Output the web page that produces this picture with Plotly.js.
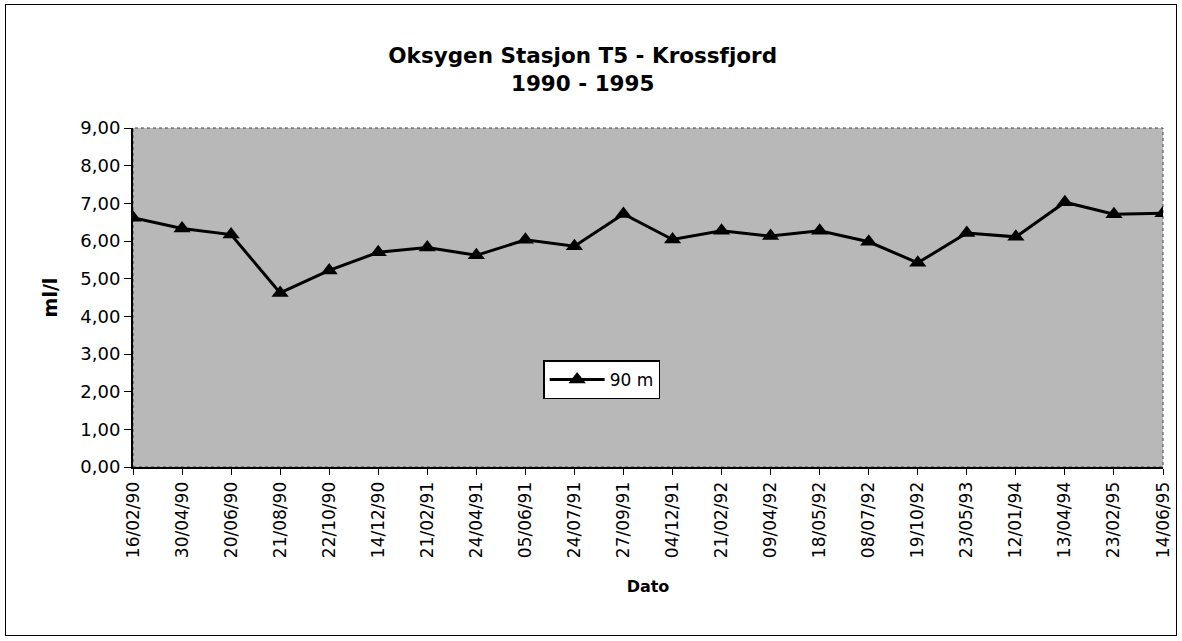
<!DOCTYPE html>
<html>
<head>
<meta charset="utf-8">
<script src="https://cdn.plot.ly/plotly-3.0.1.min.js"></script>
<style>
  html, body { margin: 0; padding: 0; background: #fff; }
  #wrap { position: relative; width: 1182px; height: 641px; }
  #chart { position: absolute; left: 0; top: 0; width: 1182px; height: 641px; }
  #frame { position: absolute; left: 5px; top: 4px; width: 1172px; height: 632px; border: 1px solid #000; pointer-events: none; box-sizing: border-box; }
</style>
</head>
<body>
<div id="wrap">
  <div id="chart"></div>
  <div id="frame"></div>
</div>
<script>
const dates = ["16/02/90","30/04/90","20/06/90","21/08/90","22/10/90","14/12/90","21/02/91","24/04/91",
               "05/06/91","24/07/91","27/09/91","04/12/91","21/02/92","09/04/92","18/05/92","08/07/92",
               "19/10/92","23/05/93","12/01/94","13/04/94","23/02/95","14/06/95"];
const oxygen90m = [6.62, 6.33, 6.17, 4.62, 5.22, 5.70, 5.83, 5.62,
                   6.03, 5.86, 6.72, 6.04, 6.27, 6.13, 6.27, 5.98,
                   5.42, 6.21, 6.11, 7.03, 6.71, 6.74];
const seriesName = "90 m";
const yTicks = [0,1,2,3,4,5,6,7,8,9];

const FONT = "DejaVu Sans, Liberation Sans, Arial, sans-serif";

const trace = {
  x: dates,
  y: oxygen90m,
  type: "scatter",
  mode: "lines+markers",
  name: seriesName,
  line: { color: "#000", width: 3 },
  marker: { symbol: "triangle-up", size: 15, color: "#000" }
};

const layout = {
  width: 1182, height: 641,
  margin: { l: 133, r: 19, t: 128, b: 174 },
  paper_bgcolor: "#fff",
  plot_bgcolor: "#b8b8b8",
  separators: ",.",
  font: { family: FONT, color: "#000", size: 17 },
  title: {
    text: "<b>Oksygen Stasjon T5 - Krossfjord</b><br><b>1990 - 1995</b>",
    font: { family: FONT, size: 21.5, color: "#000" },
    x: 0.493, xanchor: "center",
    y: 0.902, yref: "container", yanchor: "middle"
  },
  showlegend: true,
  legend: {
    x: 0.455, y: 0.257, xanchor: "center", yanchor: "middle",
    itemwidth: 55,
    bgcolor: "#fff", bordercolor: "#000", borderwidth: 1.5,
    font: { family: FONT, size: 17, color: "#000" }
  },
  xaxis: {
    type: "category",
    range: [0, dates.length - 1],
    tickangle: -90,
    ticks: "outside", ticklen: 6, tickcolor: "#000",
    showline: true, linecolor: "#000", linewidth: 2,
    showgrid: false, zeroline: false,
    tickfont: { family: FONT, size: 17, color: "#000" },
    title: { text: "<b>Dato</b>", font: { family: FONT, size: 16, color: "#000" }, standoff: 24 }
  },
  yaxis: {
    range: [0, 9],
    tickvals: yTicks,
    tickformat: ".2f",
    ticks: "outside", ticklen: 7, tickcolor: "#000",
    showline: true, linecolor: "#000", linewidth: 2,
    showgrid: false, zeroline: false,
    tickfont: { family: FONT, size: 18, color: "#000" },
    title: { text: "<b>ml/l</b>", font: { family: FONT, size: 19, color: "#000" }, standoff: 18 }
  },
  shapes: [{
    type: "rect", xref: "paper", yref: "paper", x0: 0, x1: 1, y0: 0, y1: 1,
    line: { color: "#444", width: 1, dash: "dot" }, layer: "below"
  }]
};

Plotly.newPlot("chart", [trace], layout, { displayModeBar: false, staticPlot: true });
</script>
</body>
</html>
